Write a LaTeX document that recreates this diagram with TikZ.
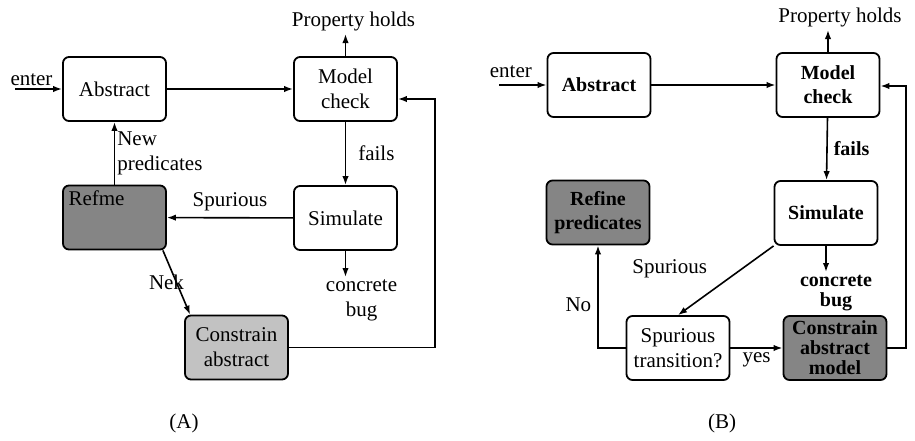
\documentclass[tikz,border=0pt]{standalone}
\usepackage{fontspec}
\setmainfont{Liberation Serif}
\usetikzlibrary{arrows.meta, positioning, calc}

\begin{document}
\begin{tikzpicture}[
    x=0.5pt, y=-0.5pt,
    font=\fontsize{10.5}{12.5}\selectfont,
    box/.style={rectangle, rounded corners=3pt, draw, line width=0.9pt, minimum width=51.5pt, minimum height=32pt, align=center, inner sep=1pt},
    darkbox/.style={box, fill=black!48},
    lightbox/.style={box, fill=black!24},
    flow/.style={-{Latex[length=4.5pt, width=3.2pt]}, line width=0.8pt},
    lbl/.style={inner sep=1pt, align=center},
]
\useasboundingbox (0,0) rectangle (915,440);

% ---------- (A) ----------
\node (absA) [box] at (114.5,89) {Abstract};
\node (mcA) [box] at (345.5,89) {Model\\check};
\node (simA) [box] at (345.5,218) {Simulate};
\node (refA) [darkbox, label={[lbl, anchor=north west, inner sep=3pt]north west:Refme}] at (114.5,217.5) {};
\node (conA) [lightbox] at (236.5,347.5) {Constrain\\abstract};
\coordinate (enterA) at (15,89);
\coordinate (propA) at (345.5,34);
\coordinate (bugA) at (345.5,277);
\coordinate (backA) at (435,99);

\draw [flow] (enterA) -- node[lbl, above, pos=0.35] {enter} (absA);
\draw [flow] (absA) -- (mcA);
\draw [flow] (mcA) -- (propA) node[lbl, above, xshift=4pt] {Property holds};
\draw [flow] (mcA) -- node[lbl, right=5pt] {fails} (simA);
\draw [flow] (refA) -- node[lbl, right, align=left] {New\\predicates} (absA);
\draw [flow] (simA) -- node[lbl, above=2pt] {Spurious} (refA);
\draw [flow] (simA) -- (bugA) node[lbl, below, xshift=8pt] {concrete\\bug};
\draw [flow] ([xshift=-2pt]refA.south east) -- node[lbl, xshift=-5pt] {Nek} ([xshift=3pt]conA.north west);
\draw [flow] (conA.east) -| (backA) -- (backA -| mcA.east);

\node (capA) [lbl] at (184,423) {(A)};

% ---------- (B) ----------
\node (absB) [box, font=\bfseries] at (599,85) {Abstract};
\node (mcB) [box, font=\bfseries] at (828,85) {Model\\check};
\node (simB) [box, font=\bfseries] at (826,213) {Simulate};
\node (refB) [darkbox, font=\bfseries] at (598,212.5) {Refine\\predicates};
\node (sptB) [box] at (678,348) {Spurious\\transition?};
\node (conB) [darkbox, font=\bfseries] at (835,348) {Constrain\\[-2pt]abstract\\[-2pt]model};
\coordinate (enterB) at (499,85);
\coordinate (propB) at (828,30);
\coordinate (bugB) at (826,272);
\coordinate (backB) at (906,86);

\draw [flow] (enterB) -- node[lbl, above=2pt, pos=0.25] {enter} (absB);
\draw [flow] (absB) -- (mcB);
\draw [flow] (mcB) -- (propB) node[lbl, above, xshift=6pt] {Property holds};
\draw [flow] (mcB) -- node[lbl, right=2pt, font=\bfseries] {fails} (simB);
\draw [flow] (simB) -- (bugB) node[lbl, below, xshift=5pt, font=\bfseries] {concrete\\[-2pt]bug};
\draw [flow] (simB.south west) -- node[lbl, above left, xshift=-8pt] {Spurious} (sptB.north);
\draw [flow] (sptB) -- node[lbl, below=1pt] {yes} (conB);
\draw [flow] (sptB.west) -| node[lbl, left=2pt, pos=0.71] {No} (refB);
\draw [flow] (conB.east) -| (backB) -- (backB -| mcB.east);

\node (capB) [lbl] at (722,423) {(B)};

\end{tikzpicture}
\end{document}
